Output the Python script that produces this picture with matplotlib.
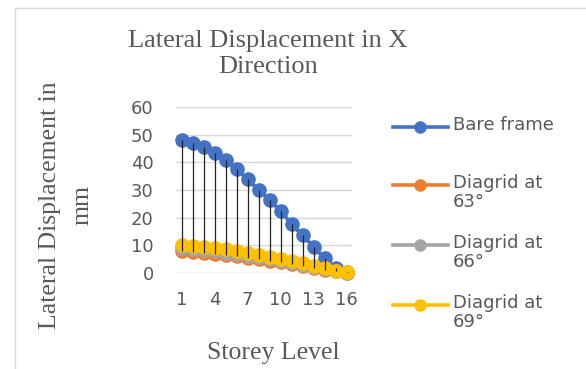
import matplotlib
matplotlib.use("Agg")
import matplotlib.pyplot as plt
from matplotlib.lines import Line2D
from matplotlib.patches import Rectangle
import numpy as np

storey = list(range(1, 17))
bare_frame = [48.0, 47.0, 45.6, 43.4, 40.7, 37.7, 33.8, 30.1, 26.4, 22.4, 17.8, 13.6, 9.5, 5.3, 1.7, 0.2]
diagrid_63 = [8.0, 7.6, 7.3, 6.9, 6.5, 6.0, 5.6, 5.0, 4.4, 3.9, 3.2, 2.6, 1.9, 1.2, 0.6, 0.1]
diagrid_66 = [9.0, 8.6, 8.2, 7.8, 7.3, 6.8, 6.3, 5.7, 5.0, 4.4, 3.7, 3.0, 2.2, 1.4, 0.7, 0.1]
diagrid_69 = [10.3, 9.9, 9.5, 9.0, 8.5, 7.9, 7.3, 6.6, 5.9, 5.1, 4.3, 3.5, 2.6, 1.7, 0.9, 0.2]
series_names = ["Bare frame", "Diagrid at\n63°", "Diagrid at\n66°", "Diagrid at\n69°"]
colors = ["#4472C4", "#ED7D31", "#A5A5A5", "#FFC000"]
yticks = [0, 10, 20, 30, 40, 50, 60]
xticks = [1, 4, 7, 10, 13, 16]

W, H = 586, 369
fig = plt.figure(figsize=(W / 100, H / 100), dpi=100)
txt = "#595959"

# chart border
fig.patches.append(Rectangle((15 / W, -0.1), 1.2, 1 - 8 / H + 0.1, transform=fig.transFigure,
                             fill=False, edgecolor="#d9d9d9", lw=1))

ax = fig.add_axes([176 / W, 1 - 273 / H, 176 / W, 166 / H])
all_series = [bare_frame, diagrid_63, diagrid_66, diagrid_69]
for vals, c in zip(all_series, colors):
    ax.plot(storey, vals, color=c, lw=2.8, marker="o", ms=9.5, zorder=3, clip_on=False)

# high-low lines
arr = np.array(all_series)
ax.vlines(storey, arr.min(axis=0), arr.max(axis=0), color="#222222", lw=0.9, zorder=4)

ax.set_xlim(0.5, 16.5)
ax.set_ylim(0, 60)
ax.set_yticks(yticks)
ax.set_xticks(xticks)
ax.grid(axis="y", color="#d9d9d9", lw=1)
ax.set_axisbelow(True)
for s in ax.spines.values():
    s.set_visible(False)
ax.tick_params(length=0, labelsize=13, labelcolor=txt)
ax.tick_params(axis="y", pad=16)
ax.tick_params(axis="x", pad=13)

serif = "Liberation Serif"
fig.text(268 / W, 1 - 54 / H, "Lateral Displacement in X\nDirection", ha="center", va="center",
         family=serif, fontsize=19, color=txt, linespacing=1.25)
fig.text(66 / W, 1 - 205 / H, "Lateral Displacement in\nmm", ha="center", va="center",
         rotation=90, family=serif, fontsize=18.5, color=txt, linespacing=1.6)
fig.text(273 / W, 1 - 353 / H, "Storey Level", ha="center", va="center",
         family=serif, fontsize=18.5, color=txt)

# legend
leg_y = [127, 185, 245, 305]
for name, c, y in zip(series_names, colors, leg_y):
    fy = 1 - y / H
    fig.add_artist(Line2D([393 / W, 448 / W], [fy, fy], color=c, lw=2.6,
                          transform=fig.transFigure))
    fig.add_artist(Line2D([420 / W], [fy], color=c, marker="o", ms=8,
                          transform=fig.transFigure))
    fig.text(453 / W, fy + 11 / H, name, ha="left", va="top", fontsize=13, color=txt,
             linespacing=1.1)

fig.savefig("out.png", dpi=100)
